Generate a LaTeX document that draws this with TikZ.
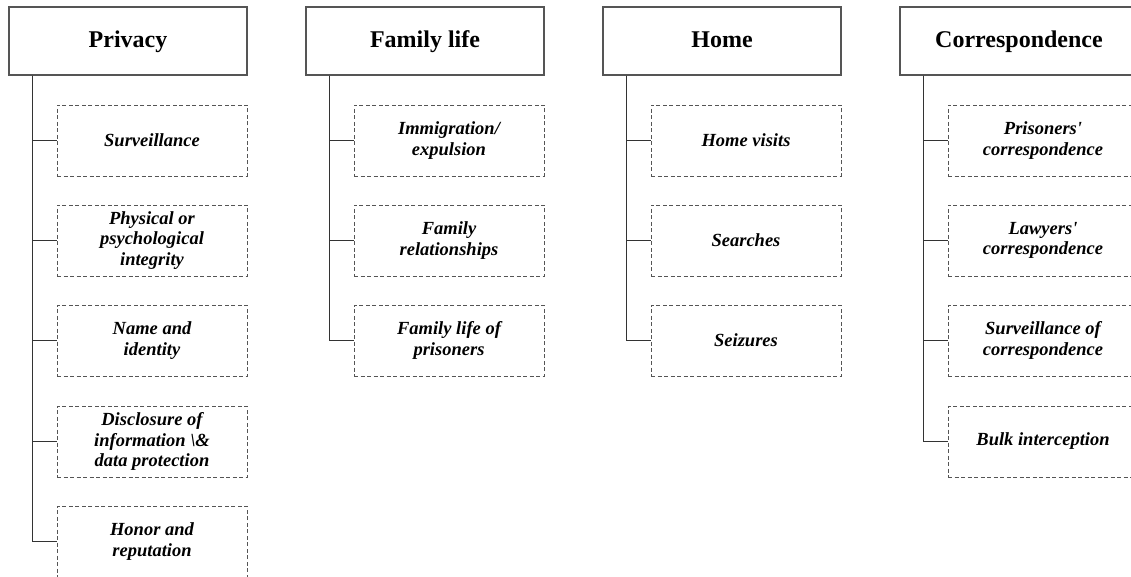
\documentclass[tikz,border=0pt]{standalone}
\usepackage{fontspec}
\setmainfont{Liberation Serif}
\usetikzlibrary{calc}
\definecolor{boxline}{HTML}{555555}
\definecolor{connline}{HTML}{333333}
\begin{document}
\begin{tikzpicture}[x=1pt,y=-1pt,
  header/.style={draw=boxline,line width=1.3pt,minimum width=238pt,minimum height=68pt,inner sep=0pt,
    text height=18pt,text depth=4pt,font=\fontsize{24}{28}\selectfont\bfseries},
  child/.style={draw=boxline,line width=0.9pt,dash pattern=on 4pt off 2.5pt,minimum width=190pt,minimum height=71pt,
    inner sep=0pt,align=center,font=\fontsize{18.5}{20.5}\selectfont\bfseries\itshape},
  conn/.style={draw=connline,line width=1.1pt}]
\useasboundingbox (0,0) rectangle (1131,577);
% headers
\node[header] (h1) at (128,41) {Privacy};
\node[header] (h2) at (425,41) {Family life};
\node[header] (h3) at (722,41) {Home};
\node[header] (h4) at (1019,41) {Correspondence};
% column 1
\node[child] (a1) at (152,140.5) {Surveillance};
\node[child] (a2) at (152,240.5) {Physical or\\psychological\\integrity};
\node[child] (a3) at (152,340.5) {Name and\\identity};
\node[child] (a4) at (152,441.5) {Disclosure of\\information \textbackslash\&\\data protection};
\node[child] (a5) at (152,541.5) {Honor and\\reputation};
% column 2
\node[child] (b1) at (449,140.5) {Immigration/\\expulsion};
\node[child] (b2) at (449,240.5) {Family\\relationships};
\node[child] (b3) at (449,340.5) {Family life of\\prisoners};
% column 3
\node[child] (c1) at (746,140.5) {Home visits};
\node[child] (c2) at (746,240.5) {Searches};
\node[child] (c3) at (746,340.5) {Seizures};
% column 4
\node[child] (d1) at (1043,140.5) {Prisoners\textquotesingle\\correspondence};
\node[child] (d2) at (1043,240.5) {Lawyers\textquotesingle\\correspondence};
\node[child] (d3) at (1043,340.5) {Surveillance of\\correspondence};
\node[child] (d4) at (1043,441.5) {Bulk interception};
% connectors
\foreach \h/\c in {h1/a1,h1/a2,h1/a3,h1/a4,h1/a5,h2/b1,h2/b2,h2/b3,h3/c1,h3/c2,h3/c3,h4/d1,h4/d2,h4/d3,h4/d4}
  \draw[conn] ($(\h.south west)+(24.5,0)$) |- (\c.west);
\end{tikzpicture}
\end{document}
